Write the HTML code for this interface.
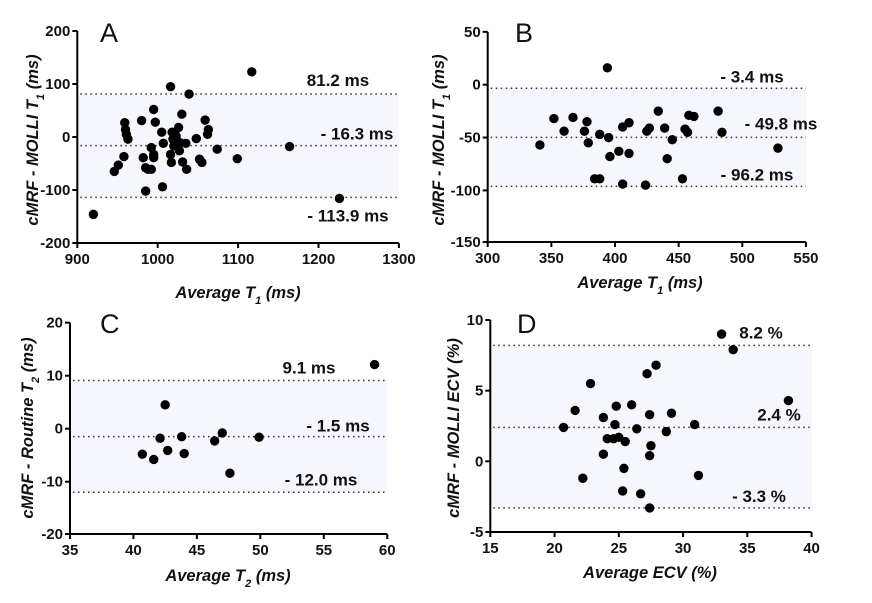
<!DOCTYPE html>
<html><head><meta charset="utf-8">
<style>
html,body{margin:0;padding:0;background:#fff;}
svg{display:block;font-family:"Liberation Sans",Arial,sans-serif;}
.tick{font-size:15px;font-weight:bold;fill:#111;}
.ttl{font-size:16.5px;font-weight:bold;font-style:italic;fill:#111;}
.val{font-size:17px;font-weight:bold;fill:#111;}
.let{font-size:27px;fill:#111;}
</style></head>
<body>
<svg id="fig" width="872" height="603" viewBox="0 0 872 603"></svg>
<script>
// Panel A data
const aX=[920,946,951,958,959,960,961,963,980,982,985,985,988,992,992,995,995,995,997,1005,1007,1006,1016,1016,1017,1018,1019,1020,1023,1026,1027,1028,1030,1031,1035,1036,1039,1048,1052,1055,1059,1063,1062,1074,1099,1117,1164,1226];
const aY=[-146,-65,-53,-37,27,14,5,-4,31,-39,-58,-102,-61,-61,-20,-33,-39,52,28,9,-12,-94,95,-33,-48,9,-4,-17,2,18,-26,-11,43,-47,-12,-61,81,-3,-42,-48,32,14,5,-23,-41,123,-18,-116];
const aLines=[81.2,-16.3,-113.9];
const aLineLabels=["81.2 ms","- 16.3 ms","- 113.9 ms"];
const aXTicks=[900,1000,1100,1200,1300];
const aYTicks=[200,100,0,-100,-200];
// Panel B data
const bX=[341,352,360,367,376,378,379,384,388,388,394,395,396,403,406,406,411,411,424,425,427,434,439,441,445,453,455,457,458,462,481,484,528];
const bY=[-57,-32,-44,-31,-44,-35,-55,-89,-89,-47,16,-50,-68,-63,-40,-94,-36,-65,-95,-44,-41,-25,-41,-70,-52,-89,-42,-45,-29,-30,-25,-45,-60];
const bLines=[-3.4,-49.8,-96.2];
const bLineLabels=["- 3.4 ms","- 49.8 ms","- 96.2 ms"];
const bXTicks=[300,350,400,450,500,550];
const bYTicks=[50,0,-50,-100,-150];
// Panel C data
const cX=[40.7,41.6,42.1,42.5,42.7,43.8,44.0,46.4,47.0,47.6,49.9,59.0];
const cY=[-4.8,-5.8,-1.8,4.5,-4.1,-1.5,-4.7,-2.3,-0.8,-8.4,-1.6,12.1];
const cLines=[9.1,-1.5,-12.0];
const cLineLabels=["9.1 ms","- 1.5 ms","- 12.0 ms"];
const cXTicks=[35,40,45,50,55,60];
const cYTicks=[20,10,0,-10,-20];
// Panel D data
const dX=[20.7,21.6,22.2,22.8,23.8,23.8,24.1,24.7,24.6,24.8,25.0,25.4,25.3,25.5,26.0,26.4,26.7,27.2,27.4,27.5,27.4,27.4,27.9,28.7,29.1,30.9,31.2,33.0,33.9,38.2];
const dY=[2.4,3.6,-1.2,5.5,3.1,0.5,1.6,2.6,1.6,3.9,1.7,-0.5,-2.1,1.4,4.0,2.3,-2.3,6.2,3.3,1.1,0.4,-3.3,6.8,2.1,3.4,2.6,-1.0,9.0,7.9,4.3];
const dLines=[8.2,2.4,-3.3];
const dLineLabels=["8.2 %","2.4 %","- 3.3 %"];
const dXTicks=[15,20,25,30,35,40];
const dYTicks=[10,5,0,-5];

const NS="http://www.w3.org/2000/svg";
const svg=document.getElementById('fig');
function mk(tag,attrs,parent,text){const e=document.createElementNS(NS,tag);for(const k in attrs)e.setAttribute(k,attrs[k]);if(text!==undefined)e.textContent=text;parent.appendChild(e);return e;}

function panel(cfg){
  const g=mk('g',{},svg);
  
  
  const sx=v=>cfg.x0+(v-cfg.xmin)*cfg.kx;
  const sy=v=>cfg.y0-(v)*cfg.ky;
  const xr=sx(cfg.xmax);
  const band=mk('rect',{x:cfg.ax,y:sy(cfg.lines[0]),width:xr-cfg.ax,height:sy(cfg.lines[2])-sy(cfg.lines[0]),fill:'#f6f6fd'},g);
  
  
  cfg.lines.forEach((v,i)=>{
    const l=mk('line',{x1:cfg.ax+3,x2:xr,y1:sy(v),y2:sy(v),stroke:'#333','stroke-width':1.5,'stroke-dasharray':'1.5 3.5'},g);
    
    
    const t=mk('text',{x:cfg.lx[i],y:sy(v)+cfg.ldy[i],class:'val','text-anchor':'middle'},g,cfg.lineLabels[i]);
    
    
  });
  const yTop=sy(cfg.yTicks[0]);
  const ya=mk('line',{x1:cfg.ax,x2:cfg.ax,y1:yTop,y2:cfg.axB,stroke:'#000','stroke-width':2},g);
  
  
  const xa=mk('line',{x1:cfg.ax-1,x2:xr,y1:cfg.axB,y2:cfg.axB,stroke:'#000','stroke-width':2},g);
  
  
  cfg.yTicks.forEach(v=>{
    const y=Math.min(sy(v),cfg.axB);
    mk('line',{x1:cfg.ax-5,x2:cfg.ax,y1:y,y2:y,stroke:'#000','stroke-width':2},g);
    const t=mk('text',{x:cfg.ax-7,y:y+5,class:'tick','text-anchor':'end'},g,String(v));
    
    
  });
  cfg.xTicks.forEach(v=>{
    const x=sx(v);
    mk('line',{x1:x,x2:x,y1:cfg.axB,y2:cfg.axB+5,stroke:'#000','stroke-width':2},g);
    const t=mk('text',{x:x,y:cfg.axB+21,class:'tick','text-anchor':'middle'},g,String(v));
    
    
  });
  cfg.xs.forEach((xv,i)=>{
    const c=mk('circle',{cx:sx(xv),cy:sy(cfg.ys[i]),r:4.7,fill:'#000'},g);
    
    
  });
  const xt=mk('text',{x:cfg.xtX,y:cfg.xtY,class:'ttl','text-anchor':'middle'},g);
  xt.innerHTML=cfg.xTitle;
  
  
  const yt=mk('text',{x:0,y:0,class:'ttl','text-anchor':'middle',transform:`translate(${cfg.ytX},${cfg.ytY}) rotate(-90)`},g);
  yt.innerHTML=cfg.yTitle;
  
  
  const lt=mk('text',{x:cfg.letX,y:cfg.letY,class:'let'},g,cfg.id);
  
  
}
const sub=s=>`<tspan baseline-shift="sub" font-size="11">${s}</tspan>`;
panel({id:'A',xs:aX,ys:aY,lines:aLines,lineLabels:aLineLabels,xTicks:aXTicks,yTicks:aYTicks,
  x0:77.3,xmin:900,xmax:1300,kx:0.804,y0:137,ky:0.53,ax:77.3,axB:243,
  lx:[338,357,348],ldy:[-8,-6,24],xtX:238,xtY:298,ytX:38,ytY:140,letX:100,letY:42,
  xTitle:'Average T'+sub('1')+' (ms)',yTitle:'cMRF - MOLLI T'+sub('1')+' (ms)'});
panel({id:'B',xs:bX,ys:bY,lines:bLines,lineLabels:bLineLabels,xTicks:bXTicks,yTicks:bYTicks,
  x0:487.7,xmin:300,xmax:550,kx:1.273,y0:84.7,ky:1.057,ax:487.7,axB:242,
  lx:[752,781,757],ldy:[-6,-8,-6],xtX:640,xtY:288,ytX:444,ytY:140,letX:515,letY:42,
  xTitle:'Average T'+sub('1')+' (ms)',yTitle:'cMRF - MOLLI T'+sub('1')+' (ms)'});
panel({id:'C',xs:cX,ys:cY,lines:cLines,lineLabels:cLineLabels,xTicks:cXTicks,yTicks:cYTicks,
  x0:70,xmin:35,xmax:60,kx:12.69,y0:428.7,ky:5.3,ax:70,axB:534,
  lx:[309,338,321],ldy:[-7,-5,-7],xtX:228,xtY:581,ytX:33,ytY:428,letX:100,letY:333,
  xTitle:'Average T'+sub('2')+' (ms)',yTitle:'cMRF - Routine T'+sub('2')+' (ms)'});
panel({id:'D',xs:dX,ys:dY,lines:dLines,lineLabels:dLineLabels,xTicks:dXTicks,yTicks:dYTicks,
  x0:490.3,xmin:15,xmax:40,kx:12.85,y0:461.3,ky:14.13,ax:490.3,axB:532,
  lx:[761,779,759],ldy:[-7,-7,-6],xtX:650,xtY:578,ytX:459,ytY:428,letX:517,letY:333,
  xTitle:'Average ECV (%)',yTitle:'cMRF - MOLLI ECV (%)'});
</script>
</body></html>
